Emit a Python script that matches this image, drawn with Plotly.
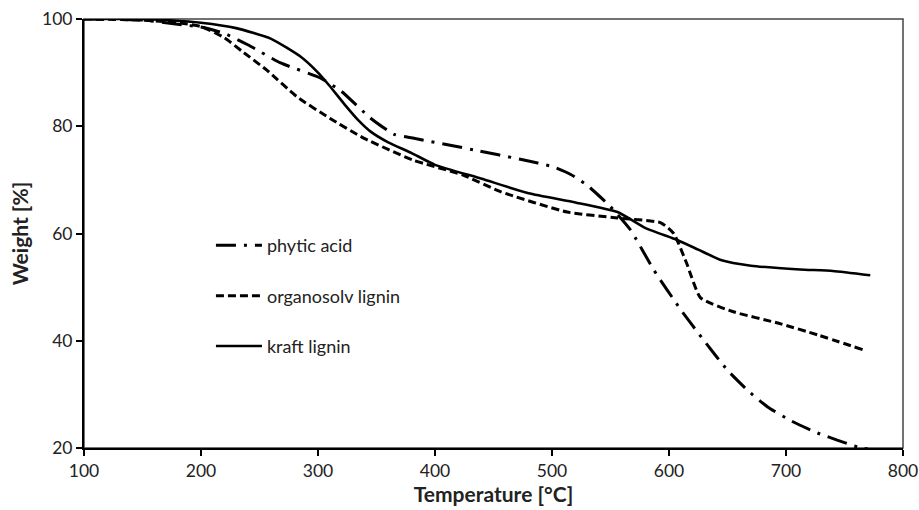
import plotly.graph_objects as go

# Kraft lignin (solid)
kraft_T = [100, 150, 170, 200, 230, 260, 285, 300, 310, 323, 335, 345, 360, 380, 400, 440, 480, 520, 556, 580, 607, 625, 645, 670, 712, 740, 772]
kraft_W = [100, 100, 99.8, 99.3, 98.3, 96.3, 93, 90, 87.5, 84, 81, 79, 77, 75, 72.8, 70.2, 67.5, 65.8, 64, 61, 58.8, 57, 55, 54, 53.3, 53, 52.2]

# Organosolv lignin (dashed)
organo_T = [100, 150, 180, 200, 220, 235, 256, 282, 310, 339, 381, 424, 456, 513, 556, 593, 604, 615, 627, 655, 693, 727, 766]
organo_W = [100, 99.8, 99.3, 98.6, 96.5, 94, 90.5, 85.5, 81.5, 77.8, 73.7, 70.9, 67.8, 64, 62.9, 62, 60, 54.5, 48, 45.4, 43.3, 41.1, 38.3]

# Phytic acid (dash-dot)
phytic_T = [100, 150, 180, 200, 220, 240, 268, 302, 320, 345, 365, 381, 433, 476, 500, 516, 530, 550, 567, 587, 610, 630, 650, 667, 684, 705, 727, 761, 770]
phytic_W = [100, 99.8, 99, 98.5, 97.3, 95.2, 91.8, 89, 86.5, 81.5, 78.5, 77.8, 75.6, 73.7, 72.5, 71, 69, 65, 60.7, 53.2, 45.8, 40.0, 34.5, 30.8, 27.7, 25, 22.8, 20.2, 19.8]

x_ticks = [100, 200, 300, 400, 500, 600, 700, 800]
y_ticks = [20, 40, 60, 80, 100]

fig = go.Figure()
fig.add_trace(go.Scatter(x=phytic_T, y=phytic_W, mode="lines", name="phytic acid",
                         legendgroup="a", line=dict(color="black", width=3, dash="20px,8px,3px,8px", shape="spline", smoothing=0.5)))
fig.add_trace(go.Scatter(x=organo_T, y=organo_W, mode="lines", name="organosolv lignin",
                         legendgroup="b", line=dict(color="black", width=3, dash="8px,4px", shape="spline", smoothing=0.5)))
fig.add_trace(go.Scatter(x=kraft_T, y=kraft_W, mode="lines", name="kraft lignin",
                         legendgroup="c", line=dict(color="black", width=2.6, shape="spline", smoothing=0.5)))

font_family = "Lato, Open Sans, sans-serif"
fig.update_layout(
    width=919, height=510,
    margin=dict(l=84, r=16, t=19, b=62, autoexpand=False),
    paper_bgcolor="white", plot_bgcolor="white",
    font=dict(family=font_family, size=17, color="#222"),
    showlegend=True,
    legend=dict(x=0.155, y=0.515, xanchor="left", yanchor="top", bgcolor="rgba(0,0,0,0)",
                font=dict(size=18, color="#222"), tracegroupgap=24, itemwidth=46),
    xaxis=dict(range=[100, 800], tickvals=x_ticks, ticks="outside", ticklen=6, tickwidth=2,
               tickcolor="black", showline=True, linecolor="black", linewidth=2, showgrid=False,
               zeroline=False, tickfont=dict(size=17.5), automargin=False,
               title=dict(text="<b>Temperature [°C]</b>", font=dict(size=21, color="#222"), standoff=4)),
    yaxis=dict(range=[20, 100], tickvals=y_ticks, ticks="outside", ticklen=6, tickwidth=2,
               tickcolor="black", showline=True, linecolor="black", linewidth=2, showgrid=False,
               zeroline=False, tickfont=dict(size=17.5), automargin=False,
               title=dict(text="<b>Weight [%]</b>", font=dict(size=21, color="#222"), standoff=8)),
    shapes=[dict(type="rect", xref="paper", yref="paper", x0=0, x1=1, y0=0, y1=1,
                 line=dict(color="#444", width=1.5), layer="below")],
)

fig.write_html("out.html")
